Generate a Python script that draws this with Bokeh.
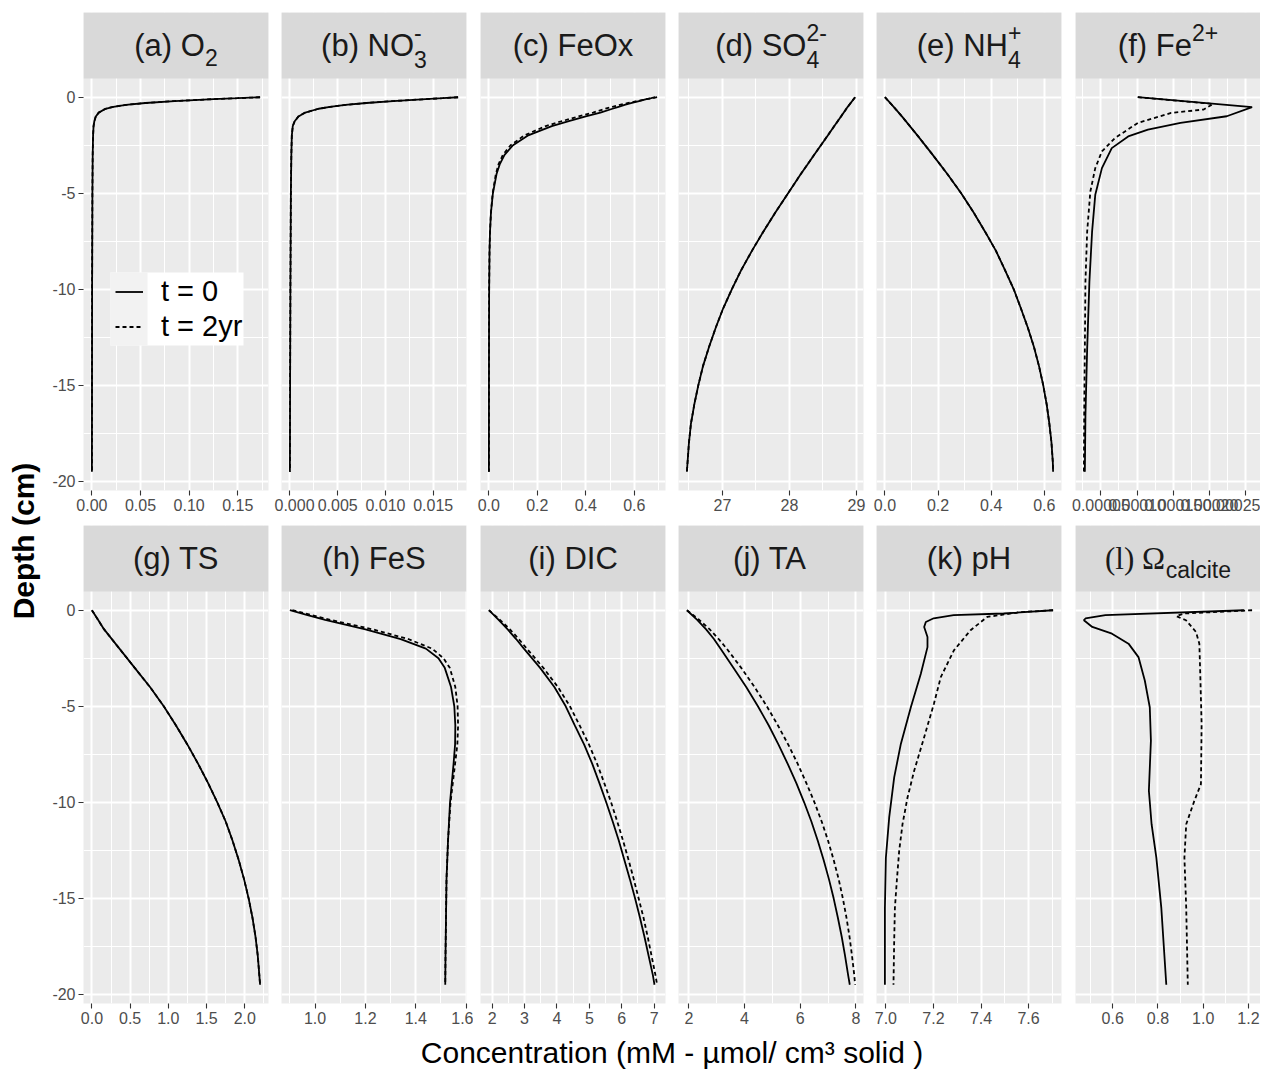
import math
from bokeh.plotting import figure
from bokeh.models import FixedTicker, BoxAnnotation, Label, Legend, LegendItem, Range1d
from bokeh.layouts import row, column
from bokeh.embed import file_html
from bokeh.resources import INLINE

# ---------------- data (depth in cm, concentrations) -------------
o2_z = [0, -0.05, -0.1, -0.2, -0.3, -0.4, -0.5, -0.6, -0.8, -1.0, -1.25, -1.5, -2, -3, -5, -10, -15, -19.5]
o2_t0 = [0.173, 0.150, 0.125, 0.085, 0.055, 0.035, 0.022, 0.014, 0.007, 0.004, 0.0025, 0.0017, 0.0012, 0.0008, 0.0005, 0.0002, 0.0001, 0.0]
o2_t2 = [0.173, 0.150, 0.125, 0.085, 0.055, 0.035, 0.022, 0.014, 0.007, 0.004, 0.0025, 0.0017, 0.0012, 0.0008, 0.0005, 0.0002, 0.0001, 0.0]

no3_z = [0, -0.05, -0.1, -0.2, -0.3, -0.4, -0.5, -0.6, -0.8, -1.0, -1.25, -1.5, -2, -3, -5, -10, -15, -19.5]
no3_t0 = [0.0176, 0.0160, 0.0142, 0.0108, 0.0080, 0.0058, 0.0042, 0.0030, 0.0016, 0.0009, 0.0005, 0.0003, 0.0002, 0.00015, 0.0001, 0.00005, 0.00002, 0.0]
no3_t2 = [0.0176, 0.0160, 0.0142, 0.0108, 0.0080, 0.0058, 0.0042, 0.0030, 0.0016, 0.0009, 0.0005, 0.0003, 0.0002, 0.00015, 0.0001, 0.00005, 0.00002, 0.0]

feox_z = [0, -0.05, -0.1, -0.2, -0.3, -0.4, -0.5, -0.6, -0.8, -1.0, -1.25, -1.5, -2, -2.5, -3, -3.5, -4, -5, -6, -7, -8, -10, -12, -15, -19.5]
feox_t0 = [0.686, 0.67, 0.65, 0.62, 0.59, 0.56, 0.535, 0.51, 0.46, 0.40, 0.33, 0.26, 0.16, 0.10, 0.065, 0.045, 0.032, 0.017, 0.009, 0.005, 0.003, 0.0015, 0.001, 0.0007, 0.0005]
feox_t2 = [0.694, 0.675, 0.65, 0.61, 0.575, 0.54, 0.51, 0.48, 0.43, 0.37, 0.30, 0.235, 0.145, 0.09, 0.058, 0.04, 0.029, 0.016, 0.009, 0.005, 0.003, 0.0015, 0.001, 0.0007, 0.0005]

so4_z = [0, -0.5, -1, -1.5, -2, -2.5, -3, -3.5, -4, -5, -6, -7, -8, -9, -10, -11, -12, -13, -14, -15, -16, -17, -18, -19, -19.5]
so4_t0 = [28.98, 28.87, 28.77, 28.67, 28.57, 28.47, 28.37, 28.27, 28.17, 27.98, 27.79, 27.61, 27.44, 27.28, 27.14, 27.01, 26.90, 26.80, 26.71, 26.64, 26.58, 26.53, 26.50, 26.48, 26.47]
so4_t2 = [28.98, 28.87, 28.77, 28.67, 28.57, 28.47, 28.37, 28.27, 28.17, 27.98, 27.79, 27.61, 27.44, 27.28, 27.14, 27.01, 26.90, 26.80, 26.71, 26.64, 26.58, 26.53, 26.50, 26.48, 26.47]

nh4_z = [0, -0.5, -1, -2, -3, -4, -5, -6, -7, -8, -9, -10, -11, -12, -13, -14, -15, -16, -17, -18, -19, -19.5]
nh4_t0 = [0.0, 0.033, 0.064, 0.123, 0.180, 0.235, 0.287, 0.334, 0.377, 0.418, 0.452, 0.485, 0.512, 0.538, 0.561, 0.580, 0.596, 0.609, 0.619, 0.627, 0.632, 0.633]
nh4_t2 = [0.0, 0.033, 0.064, 0.123, 0.180, 0.235, 0.287, 0.334, 0.377, 0.418, 0.452, 0.485, 0.512, 0.538, 0.561, 0.580, 0.596, 0.609, 0.619, 0.627, 0.632, 0.633]

fe_z0 = [0, -0.52, -0.99, -1.34, -1.69, -2.04, -2.65, -3.69, -5.08, -7.0, -9.6, -13.1, -16.6, -19.5]
fe_t0 = [1.01e-4, 2.59e-4, 2.24e-4, 1.60e-4, 1.15e-4, 8.77e-5, 6.50e-5, 5.14e-5, 4.22e-5, 3.78e-5, 3.41e-5, 3.10e-5, 2.86e-5, 2.78e-5]
fe_z2 = [0, -0.35, -0.64, -0.82, -1.34, -2.12, -2.82, -3.69, -4.91, -7.0, -9.6, -13.1, -16.6, -19.5]
fe_t2 = [1.01e-4, 2.05e-4, 1.92e-4, 1.47e-4, 1.01e-4, 6.95e-5, 5.14e-5, 4.22e-5, 3.54e-5, 3.10e-5, 2.86e-5, 2.78e-5, 2.69e-5, 2.65e-5]

ts_z = [0, -0.5, -1, -2, -3, -4, -5, -6, -7, -8, -9, -10, -11, -12, -13, -14, -15, -16, -17, -18, -19, -19.5]
ts_t0 = [0.0, 0.08, 0.16, 0.36, 0.56, 0.76, 0.94, 1.10, 1.25, 1.39, 1.52, 1.64, 1.75, 1.84, 1.92, 1.99, 2.05, 2.10, 2.14, 2.17, 2.19, 2.20]
ts_t2 = [0.0, 0.08, 0.16, 0.36, 0.56, 0.76, 0.94, 1.10, 1.25, 1.39, 1.52, 1.64, 1.75, 1.84, 1.92, 1.99, 2.05, 2.10, 2.14, 2.17, 2.19, 2.20]

fes_z = [0, -0.25, -0.5, -0.75, -1, -1.5, -2, -2.5, -3, -4, -5, -6, -7, -8, -9, -10, -12, -14, -16, -18, -19.5]
fes_t0 = [0.90, 0.97, 1.04, 1.12, 1.20, 1.34, 1.44, 1.49, 1.515, 1.54, 1.553, 1.557, 1.556, 1.550, 1.543, 1.536, 1.528, 1.522, 1.520, 1.518, 1.517]
fes_t2 = [0.91, 0.985, 1.06, 1.145, 1.23, 1.37, 1.465, 1.51, 1.535, 1.557, 1.566, 1.568, 1.565, 1.556, 1.547, 1.538, 1.528, 1.522, 1.520, 1.518, 1.517]

dic_z = [0, -0.5, -1, -1.5, -2, -3, -4, -5, -6, -7, -8, -9, -10, -11, -12, -13, -14, -15, -16, -17, -18, -19, -19.5]
dic_t0 = [1.90, 2.20, 2.48, 2.74, 2.98, 3.48, 3.92, 4.27, 4.55, 4.84, 5.09, 5.31, 5.52, 5.72, 5.91, 6.08, 6.25, 6.41, 6.56, 6.70, 6.83, 6.96, 7.01]
dic_t2 = [1.90, 2.24, 2.55, 2.82, 3.07, 3.58, 4.03, 4.40, 4.70, 4.99, 5.24, 5.46, 5.67, 5.86, 6.04, 6.21, 6.37, 6.52, 6.67, 6.80, 6.92, 7.04, 7.09]

ta_z = [0, -0.5, -1, -1.5, -2, -3, -4, -5, -6, -7, -8, -9, -10, -11, -12, -13, -14, -15, -16, -17, -18, -19, -19.5]
ta_t0 = [1.93, 2.30, 2.62, 2.90, 3.14, 3.60, 4.06, 4.48, 4.87, 5.22, 5.55, 5.86, 6.14, 6.40, 6.63, 6.84, 7.03, 7.20, 7.35, 7.49, 7.61, 7.72, 7.78]
ta_t2 = [1.93, 2.37, 2.75, 3.07, 3.36, 3.88, 4.36, 4.80, 5.20, 5.57, 5.91, 6.22, 6.51, 6.77, 7.00, 7.20, 7.38, 7.53, 7.66, 7.77, 7.86, 7.94, 7.97]

ph_z0 = [0, -0.17, -0.26, -0.42, -0.61, -0.87, -1.39, -1.92, -3.31, -5.05, -6.96, -8.70, -10.79, -12.9, -15.5, -19.5]
ph_t0 = [7.703, 7.495, 7.285, 7.201, 7.168, 7.161, 7.175, 7.175, 7.147, 7.105, 7.063, 7.035, 7.014, 7.000, 6.996, 6.996]
ph_z2 = [0, -0.10, -0.35, -1.04, -2.09, -3.48, -4.87, -6.61, -8.36, -9.75, -11.14, -12.53, -14.1, -15.5, -17.2, -19.5]
ph_t2 = [7.703, 7.566, 7.426, 7.356, 7.286, 7.231, 7.202, 7.161, 7.119, 7.091, 7.070, 7.056, 7.046, 7.038, 7.035, 7.032]

om_z0 = [0, -0.26, -0.43, -0.52, -0.87, -1.22, -1.74, -2.44, -3.66, -5.05, -6.79, -9.4, -11.14, -12.88, -15.5, -19.5]
om_t0 = [1.18, 0.568, 0.480, 0.473, 0.510, 0.597, 0.670, 0.714, 0.742, 0.764, 0.769, 0.760, 0.772, 0.793, 0.815, 0.837]
om_z2 = [0, -0.17, -0.31, -0.52, -1.13, -1.74, -3.31, -5.92, -9.05, -9.92, -11.14, -12.88, -15.5, -19.5]
om_t2 = [1.216, 0.917, 0.881, 0.924, 0.968, 0.983, 0.987, 0.993, 0.990, 0.961, 0.925, 0.917, 0.925, 0.932]

# tick breaks and labels
o2_ticks, o2_labels = [0, 0.05, 0.10, 0.15], ["0.00", "0.05", "0.10", "0.15"]
no3_ticks, no3_labels = [0, 0.005, 0.010, 0.015], ["0.000", "0.005", "0.010", "0.015"]
feox_ticks, feox_labels = [0, 0.2, 0.4, 0.6], ["0.0", "0.2", "0.4", "0.6"]
so4_ticks, so4_labels = [27, 28, 29], ["27", "28", "29"]
nh4_ticks, nh4_labels = [0, 0.2, 0.4, 0.6], ["0.0", "0.2", "0.4", "0.6"]
fe_ticks, fe_labels = [0.00005, 0.00010, 0.00015, 0.00020, 0.00025], ["0.00005", "0.00010", "0.00015", "0.00020", "0.00025"]
ts_ticks, ts_labels = [0, 0.5, 1.0, 1.5, 2.0], ["0.0", "0.5", "1.0", "1.5", "2.0"]
fes_ticks, fes_labels = [1.0, 1.2, 1.4, 1.6], ["1.0", "1.2", "1.4", "1.6"]
dic_ticks, dic_labels = [2, 3, 4, 5, 6, 7], ["2", "3", "4", "5", "6", "7"]
ta_ticks, ta_labels = [2, 4, 6, 8], ["2", "4", "6", "8"]
ph_ticks, ph_labels = [7.0, 7.2, 7.4, 7.6], ["7.0", "7.2", "7.4", "7.6"]
om_ticks, om_labels = [0.6, 0.8, 1.0, 1.2], ["0.6", "0.8", "1.0", "1.2"]
depth_ticks, depth_labels = [0, -5, -10, -15, -20], ["0", "-5", "-10", "-15", "-20"]

series_labels = ["t = 0", "t = 2yr"]
x_title = "Concentration (mM - µmol/ cm³ solid )"
y_title = "Depth (cm)"

# ---------------- styling ----------------
SANS = "Liberation Sans"
SERIF = "Liberation Serif"
F_STRIP = 31
F_STRIP_SMALL = 23
F_BIG = 29
F_TITLE = 30
F_TICK = 16
STRIP_BG = "#D9D9D9"
PANEL_BG = "#EBEBEB"

FW = 185          # panel width
PANEL_H = 412     # data area height
STRIP_H = 66
FH = PANEL_H + STRIP_H
TOP_B = [12, 4]
BOT_B = [31, 28]
XT_H = 39
YT_W = 48
LEFT_B = [35, 7, 7, 7, 7, 7]
RIGHT_B = [6, 7, 6, 6, 7, 0]

W_SANS = {' ': 278, '(': 333, ')': 333, '-': 333, '+': 584, '/': 278, 'µ': 576,
          'a': 556, 'b': 556, 'c': 500, 'd': 556, 'e': 556, 'f': 278, 'g': 556, 'h': 556,
          'i': 222, 'j': 222, 'k': 500, 'l': 222, 'm': 833, 'n': 556, 'o': 556, 'p': 556,
          'r': 333, 's': 500, 't': 278, 'u': 556, 'x': 500, 'y': 500,
          'A': 667, 'C': 722, 'D': 722, 'F': 611, 'H': 722, 'I': 278, 'M': 833, 'N': 722,
          'O': 778, 'S': 667, 'T': 611, 'X': 667}
W_SERIF = {'(': 333, ')': 333, 'l': 278, ' ': 250, 'Ω': 768}


def tw(s, size, table=W_SANS):
    return sum(table.get(c, 556) for c in s) / 1000.0 * size


def add_pieces(p, pieces, cx, cy, big, small, color="#1A1A1A"):
    """Rich label made of pieces (kind, text[, text2]) laid out left-to-right, centred on cx;
    cy is the vertical centre of the main text."""
    widths = []
    for pc in pieces:
        k = pc[0]
        if k == "main":
            widths.append(tw(pc[1], big))
        elif k == "mainserif":
            widths.append(tw(pc[1], big, W_SERIF))
        elif k in ("sub", "sup"):
            widths.append(tw(pc[1], small))
        else:  # stacked sup/sub
            widths.append(max(tw(pc[1], small), tw(pc[2], small)))
    x = cx - sum(widths) / 2.0
    common = dict(x_units="screen", y_units="screen", text_align="left",
                  text_baseline="alphabetic", text_color=color)
    for pc, w in zip(pieces, widths):
        k = pc[0]
        if k in ("main", "mainserif"):
            font = SERIF if k == "mainserif" else SANS
            p.add_layout(Label(x=x, y=cy, text=pc[1], text_font=font,
                               text_font_size=f"{big}px", **common))
        elif k == "sub":
            p.add_layout(Label(x=x, y=cy - 0.38 * big, text=pc[1], text_font=SANS,
                               text_font_size=f"{small}px", **common))
        elif k == "sup":
            p.add_layout(Label(x=x, y=cy + 0.42 * big, text=pc[1], text_font=SANS,
                               text_font_size=f"{small}px", **common))
        elif k == "stack":
            p.add_layout(Label(x=x, y=cy + 0.42 * big, text=pc[1], text_font=SANS,
                               text_font_size=f"{small}px", **common))
            p.add_layout(Label(x=x, y=cy - 0.45 * big, text=pc[2], text_font=SANS,
                               text_font_size=f"{small}px", **common))
        x += w


def minor_of(ticks, lo, hi):
    step = ticks[1] - ticks[0]
    cands = [ticks[0] - step / 2] + [(a + b) / 2 for a, b in zip(ticks[:-1], ticks[1:])] + [ticks[-1] + step / 2]
    return [c for c in cands if lo <= c <= hi]


panels = [
    dict(title=[("main", "(a) O"), ("sub", "2")], z0=o2_z, v0=o2_t0, z2=o2_z, v2=o2_t2, ticks=o2_ticks, labels=o2_labels),
    dict(title=[("main", "(b) NO"), ("stack", "-", "3")], z0=no3_z, v0=no3_t0, z2=no3_z, v2=no3_t2, ticks=no3_ticks, labels=no3_labels),
    dict(title=[("main", "(c) FeOx")], z0=feox_z, v0=feox_t0, z2=feox_z, v2=feox_t2, ticks=feox_ticks, labels=feox_labels),
    dict(title=[("main", "(d) SO"), ("stack", "2-", "4")], z0=so4_z, v0=so4_t0, z2=so4_z, v2=so4_t2, ticks=so4_ticks, labels=so4_labels),
    dict(title=[("main", "(e) NH"), ("stack", "+", "4")], z0=nh4_z, v0=nh4_t0, z2=nh4_z, v2=nh4_t2, ticks=nh4_ticks, labels=nh4_labels),
    dict(title=[("main", "(f) Fe"), ("sup", "2+")], z0=fe_z0, v0=fe_t0, z2=fe_z2, v2=fe_t2, ticks=fe_ticks, labels=fe_labels),
    dict(title=[("main", "(g) TS")], z0=ts_z, v0=ts_t0, z2=ts_z, v2=ts_t2, ticks=ts_ticks, labels=ts_labels),
    dict(title=[("main", "(h) FeS")], z0=fes_z, v0=fes_t0, z2=fes_z, v2=fes_t2, ticks=fes_ticks, labels=fes_labels),
    dict(title=[("main", "(i) DIC")], z0=dic_z, v0=dic_t0, z2=dic_z, v2=dic_t2, ticks=dic_ticks, labels=dic_labels),
    dict(title=[("main", "(j) TA")], z0=ta_z, v0=ta_t0, z2=ta_z, v2=ta_t2, ticks=ta_ticks, labels=ta_labels),
    dict(title=[("main", "(k) pH")], z0=ph_z0, v0=ph_t0, z2=ph_z2, v2=ph_t2, ticks=ph_ticks, labels=ph_labels),
    dict(title=[("mainserif", "(l) Ω"), ("sub", "calcite")], z0=om_z0, v0=om_t0, z2=om_z2, v2=om_t2, ticks=om_ticks, labels=om_labels),
]

# shared depth range (ggplot-like 5% expansion) extended upward to hold the strip
all_z = [z for sp in panels for z in sp["z0"] + sp["z2"]]
zmin, zmax = min(all_z), max(all_z)
zpad = 0.05 * (zmax - zmin)
y_lo, y_hi_panel = zmin - zpad, zmax + zpad
y_hi = y_hi_panel + STRIP_H * (y_hi_panel - y_lo) / PANEL_H


def style_axis(ax):
    ax.axis_line_color = None
    ax.major_tick_out = 5
    ax.major_tick_in = 0
    ax.minor_tick_out = 0
    ax.minor_tick_in = 0
    ax.major_tick_line_color = "#333333"
    ax.major_tick_line_width = 1.1
    ax.major_label_text_color = "#4D4D4D"
    ax.major_label_text_font = SANS
    ax.major_label_text_font_size = f"{F_TICK}px"
    ax.major_label_standoff = 3


figs = []
for i, sp in enumerate(panels):
    col = i % 6
    rw = i // 6
    vals = sp["v0"] + sp["v2"]
    vmin, vmax = min(vals), max(vals)
    pad = 0.05 * (vmax - vmin)
    xs, xe = vmin - pad, vmax + pad
    p = figure(width=LEFT_B[col] + FW + RIGHT_B[col], height=TOP_B[rw] + FH + BOT_B[rw],
               x_range=Range1d(xs, xe), y_range=Range1d(y_lo, y_hi),
               output_backend="svg", toolbar_location=None, title=None,
               min_border_left=LEFT_B[col], min_border_right=RIGHT_B[col],
               min_border_top=TOP_B[rw], min_border_bottom=BOT_B[rw],
               background_fill_color=PANEL_BG, border_fill_color="white",
               outline_line_color=None)
    xt = FixedTicker(ticks=sp["ticks"], minor_ticks=minor_of(sp["ticks"], xs, xe))
    yt = FixedTicker(ticks=depth_ticks, minor_ticks=minor_of(depth_ticks, y_lo, y_hi_panel))
    p.xaxis.ticker = xt
    p.xaxis.major_label_overrides = dict(zip(sp["ticks"], sp["labels"]))
    p.yaxis.ticker = yt
    p.yaxis.major_label_overrides = dict(zip(depth_ticks, depth_labels))
    style_axis(p.xaxis[0])
    style_axis(p.yaxis[0])
    if col != 0:
        p.yaxis.visible = False
    p.xgrid.ticker = xt
    p.ygrid.ticker = yt
    for g in (p.xgrid[0], p.ygrid[0]):
        g.grid_line_color = "white"
        g.grid_line_width = 2.0
        g.minor_grid_line_color = "white"
        g.minor_grid_line_width = 1.0

    r0 = p.line(sp["v0"], sp["z0"], line_color="black", line_width=1.8)
    r2 = p.line(sp["v2"], sp["z2"], line_color="black", line_width=1.8, line_dash="4 3")

    # facet strip
    p.add_layout(BoxAnnotation(bottom=PANEL_H, bottom_units="screen", fill_color=STRIP_BG,
                               fill_alpha=1.0, line_color=None))
    add_pieces(p, sp["title"], FW / 2.0, PANEL_H + STRIP_H / 2.0, F_STRIP, F_STRIP_SMALL)

    if i == 0:
        # legend background: white label area, light grey key area
        p.add_layout(BoxAnnotation(left=27, right=160, bottom=145, top=218,
                                   left_units="screen", right_units="screen",
                                   bottom_units="screen", top_units="screen",
                                   fill_color="white", fill_alpha=1.0, line_color=None))
        p.add_layout(BoxAnnotation(left=27, right=64, bottom=145, top=218,
                                   left_units="screen", right_units="screen",
                                   bottom_units="screen", top_units="screen",
                                   fill_color="#F2F2F2", fill_alpha=1.0, line_color=None))
        leg = Legend(items=[LegendItem(label=series_labels[0], renderers=[r0]),
                            LegendItem(label=series_labels[1], renderers=[r2])],
                     location=(32, 146.5), padding=0, spacing=0, margin=0,
                     glyph_width=28, glyph_height=35, label_height=35, label_standoff=18,
                     label_text_font=SANS, label_text_font_size=f"{F_BIG}px",
                     label_text_color="black", background_fill_alpha=0.0,
                     border_line_color=None)
        p.add_layout(leg)
    figs.append(p)

# y-axis title (spans both rows, centred on the data panels)
YF_H = sum(TOP_B) + 2 * FH + sum(BOT_B)
panels_top = TOP_B[0] + STRIP_H
panels_bottom = TOP_B[0] + FH + BOT_B[0] + TOP_B[1] + FH
yfig = figure(width=YT_W, height=YF_H, x_range=Range1d(0, 1), y_range=Range1d(0, 1),
              x_axis_type=None, y_axis_type=None, min_border=0, toolbar_location=None,
              output_backend="svg", outline_line_color=None, title=None)
yfig.add_layout(Label(x=23, y=YF_H - (panels_top + panels_bottom) / 2.0, x_units="screen", y_units="screen",
                      text=y_title, angle=math.pi / 2, text_align="center", text_baseline="middle",
                      text_font=SANS, text_font_style="bold",
                      text_font_size="30px", text_color="black"))

# x-axis title (spans all columns)
XT_W = YT_W + sum(LEFT_B) + 6 * FW + sum(RIGHT_B)
xfig = figure(width=XT_W, height=XT_H, x_range=Range1d(0, 1), y_range=Range1d(0, 1),
              x_axis_type=None, y_axis_type=None, min_border=0, toolbar_location=None,
              output_backend="svg", outline_line_color=None, title=None)
cx_title = YT_W + LEFT_B[0] + (6 * FW + sum(RIGHT_B[:5]) + sum(LEFT_B[1:])) / 2.0
xfig.add_layout(Label(x=cx_title, y=18, x_units="screen", y_units="screen", text=x_title,
                      text_align="center", text_baseline="alphabetic", text_font=SANS,
                      text_font_size=f"{F_TITLE}px", text_color="black"))

layout = column(row(yfig, column(row(*figs[:6]), row(*figs[6:]))), xfig)

open("out.html", "w").write(file_html(layout, INLINE))
